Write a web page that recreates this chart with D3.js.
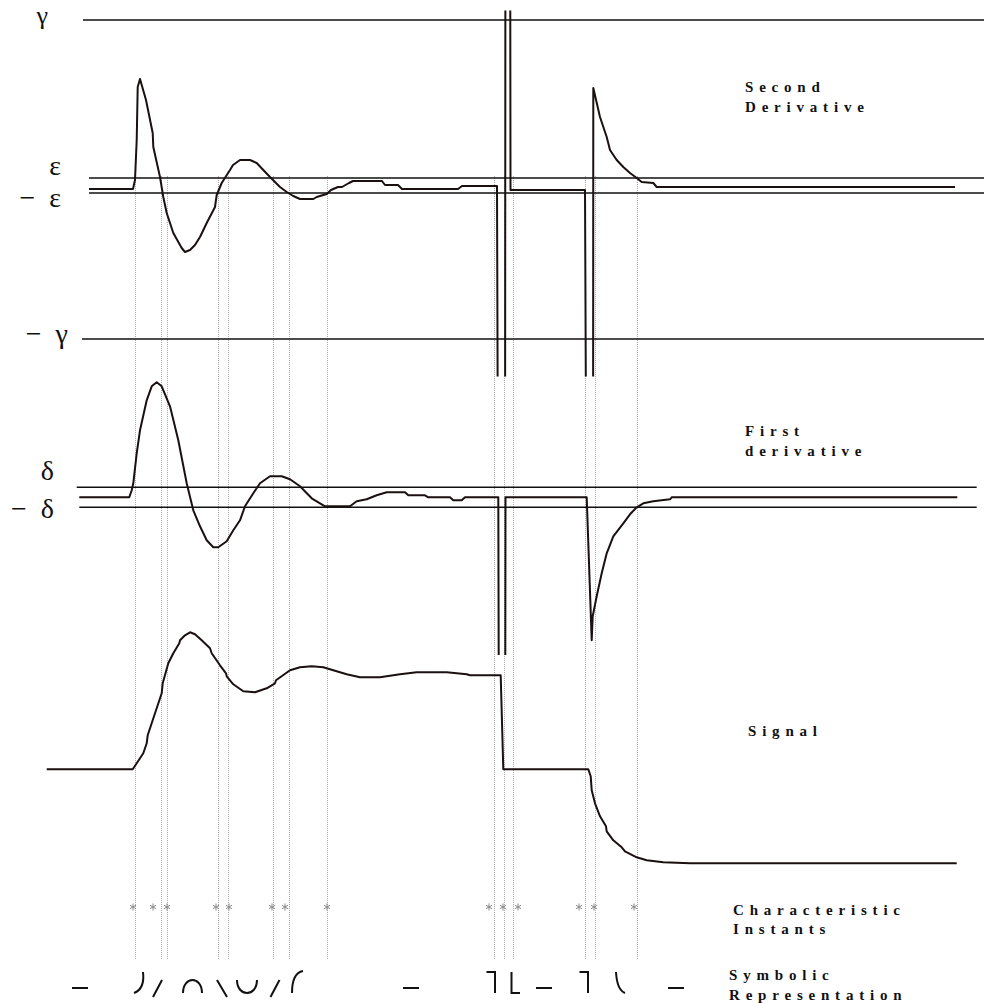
<!DOCTYPE html>
<html>
<head>
<meta charset="utf-8">
<script src="https://cdn.jsdelivr.net/npm/d3@7"></script>
<style>
  body { margin: 0; background: #fff; }
  .curve { fill: none; stroke: #1a1010; stroke-width: 2; stroke-linejoin: round; }
  .thr { stroke: #111; stroke-width: 1.6; }
  .instant { stroke: #a8a8a8; stroke-width: 1; stroke-dasharray: 1,1; }
  .greek { font-family: "Liberation Serif", "DejaVu Serif", serif; font-size: 28px; fill: #111; }
  .name { font-family: "Liberation Serif", serif; font-weight: bold; font-size: 15px; letter-spacing: 5.8px; fill: #111; }
  .star { fill: none; stroke: #8a8a8a; stroke-width: 1; }
  .sym { fill: none; stroke: #111; stroke-width: 2; }
</style>
</head>
<body>
<script>
// time axis (samples)
var instants = [135, 161, 167, 218, 228, 273, 289, 327, 494, 504, 513, 585, 595, 637];
var starTimes = [133, 153, 167, 216, 229, 272, 285, 327, 489, 503, 518, 579, 594, 634];

// second derivative (0 = rest level), thresholds gamma / epsilon
var d2Time = [89, 133, 135, 136.7, 137.7, 140, 146, 152.7, 153.3, 160, 163.3, 166.7, 173.3, 181.7, 185, 190, 195, 200, 206.7, 215, 216.7, 221.7, 230, 233, 240, 250, 256.7, 263.3, 270, 280, 286.7, 293.3, 300, 313.3, 316.7, 326.7, 331, 338, 342, 349, 353, 382, 385, 398, 402, 458, 462, 497, 498.3, 505, 505.5, 510, 510.5, 585, 586.7, 593, 593.3, 600, 606.7, 610, 616.7, 623.3, 630, 636.7, 641.7, 653.3, 656.7, 955];
var d2Value = [-3, -3, 6, 46, 99, 107, 86, 53, 39, 9, -11, -27, -47, -62, -66, -64, -59, -51, -37, -21, -9, 3, 16, 21, 26, 26, 23, 16, 9, -1, -6, -10, -13, -13, -11, -8, -4, -1, -1, 3, 5, 5, 1, 1, -3, -3, 0, 0, -400, -400, 400, 400, -4, -4, -400, -400, 98, 69, 49, 36, 26, 19, 13, 8, 4, 3, -1, -1];
var gamma = 166, negGamma = -153, eps = 8, negEps = -7;

// first derivative, thresholds delta
var d1Time = [79.3, 129.3, 131.7, 133.3, 136.7, 140, 146.7, 151.7, 156.7, 161.7, 170, 178.3, 186.7, 193.3, 200, 206.7, 213.3, 218.3, 226.7, 233.3, 240, 245, 253.3, 260, 270, 281.7, 290, 300, 311.7, 325, 350, 356.7, 366.7, 376.7, 386.7, 405, 408.3, 425, 428.3, 450, 453.3, 461.7, 465, 498.3, 499.3, 505, 505.5, 586.7, 591.7, 592.7, 596.7, 601.7, 606.7, 613.3, 623.3, 630, 636.7, 643.3, 653.3, 670, 671.7, 957.3];
var d1Value = [0, 0, 7, 14, 44, 67, 97, 111, 115, 111, 91, 57, 14, -13, -29, -43, -50, -50, -44, -33, -23, -9, 4, 14, 21, 21, 18, 11, -1, -9, -9, -4, -2, 2, 5, 5, 2, 2, 0, 0, -3, -3, 0, 0, -400, -400, 0, 0, -143, -119, -99, -76, -56, -39, -26, -17, -10, -6, -4, -2, 0, 0];
var delta = 10, negDelta = -10;

// signal
var sTime = [46.7, 132.7, 136.7, 143.3, 146.7, 147.7, 155, 161.7, 162.7, 168.3, 173.3, 179.3, 180, 185, 190, 195, 201.7, 210, 211.7, 220, 226, 226.7, 233.3, 243.3, 255, 266.7, 275, 276, 290, 300, 311.7, 323.3, 333.3, 346.7, 360, 380, 400, 416.7, 446.7, 466.7, 470, 500.7, 503.3, 588.3, 590.7, 591.7, 595, 600, 606, 606.7, 613.3, 621.7, 625, 636.7, 646.7, 663.3, 690, 956.7];
var sValue = [0, 0, 6, 16, 26, 34, 56, 76, 86, 106, 116, 126, 129, 134, 137, 135, 129, 121, 116, 104, 96, 93, 85, 78, 77, 81, 86, 89, 99, 102, 103, 102, 99, 95, 92, 92, 95, 97, 97, 95, 94, 94, 0, 0, -7, -21, -34, -47, -57, -62, -71, -78, -82, -88, -91, -93, -94, -94];

// symbolic representation
var symTime = [80, 139, 157.5, 192.5, 222, 247, 275, 298, 411, 491, 516, 544, 584, 620, 676];
var symKind = ["flat", "convex", "rise", "cap", "fall", "cup", "rise", "concave", "flat", "stepDown", "stepUp", "flat", "stepDown", "decay", "flat"];

var panelNames = [["Second", "Derivative"], ["First", "derivative"], ["Signal"], ["Characteristic", "Instants"], ["Symbolic", "Representation"]];

var width = 984, height = 1003;

var x = d3.scaleLinear().domain([0, 984]).range([0, 984]);
var y2 = d3.scaleLinear().domain([-160, 170]).range([346, 16]);
var y1 = d3.scaleLinear().domain([-170, 130]).range([667.3, 367.3]);
var ys = d3.scaleLinear().domain([-100, 140]).range([869.3, 629.3]);

var svg = d3.select("body").append("svg")
    .attr("width", width)
    .attr("height", height);

var defs = svg.append("defs");
defs.append("clipPath").attr("id", "clip2")
    .append("rect").attr("x", 0).attr("y", 10.5).attr("width", width).attr("height", 366);
defs.append("clipPath").attr("id", "clip1")
    .append("rect").attr("x", 0).attr("y", 360).attr("width", width).attr("height", 295);

// characteristic instants
svg.selectAll(".instant")
    .data(instants)
    .enter().append("line")
    .attr("class", "instant")
    .attr("x1", function(d) { return x(d) + 0.5; })
    .attr("x2", function(d) { return x(d) + 0.5; })
    .attr("y1", 176)
    .attr("y2", 959);

svg.selectAll(".star")
    .data(starTimes)
    .enter().append("path")
    .attr("class", "star")
    .attr("transform", function(d) { return "translate(" + x(d) + ",907)"; })
    .attr("d", d3.symbol(d3.symbolAsterisk, 35));

// thresholds
function hline(scale, v, x0, x1) {
    svg.append("line")
        .attr("class", "thr")
        .attr("x1", x(x0)).attr("x2", x(x1))
        .attr("y1", scale(v)).attr("y2", scale(v));
}
hline(y2, gamma, 83, 984);
hline(y2, eps, 89, 984);
hline(y2, negEps, 89, 984);
hline(y2, negGamma, 82, 984);
hline(y1, delta, 76.7, 976.7);
hline(y1, negDelta, 79.3, 976.7);

function curve(t, v, scale, clip) {
    var pts = t.map(function(d, i) { return [d, v[i]]; });
    var line = d3.line()
        .x(function(d) { return x(d[0]); })
        .y(function(d) { return scale(d[1]); });
    var p = svg.append("path")
        .datum(pts)
        .attr("class", "curve")
        .attr("d", line);
    if (clip) p.attr("clip-path", "url(#" + clip + ")");
}
curve(d2Time, d2Value, y2, "clip2");
curve(d1Time, d1Value, y1, "clip1");
curve(sTime, sValue, ys, null);

// threshold labels
function greek(txt, xEnd, yBase, size) {
    svg.append("text")
        .attr("class", "greek")
        .attr("x", xEnd)
        .attr("y", yBase)
        .attr("text-anchor", "end")
        .style("font-size", size ? size + "px" : null)
        .text(txt);
}
greek("\u03b3", 48, y2(gamma) + 4, 26);
greek("\u03b5", 61, y2(eps) - 3);
greek("\u2212\u2002\u03b5", 61, y2(negEps) + 14);
greek("\u2212\u2002\u03b3", 68, y2(negGamma) + 4);
greek("\u03b4", 54, y1(delta) - 7);
greek("\u2212\u2002\u03b4", 54, y1(negDelta) + 11);

// panel names
var namePos = [[745, 92, 20], [745, 436, 20], [748, 736, 20], [733, 915, 19], [729, 980, 20]];
panelNames.forEach(function(lines, i) {
    var t = svg.append("text")
        .attr("class", "name")
        .attr("x", namePos[i][0])
        .attr("y", namePos[i][1]);
    lines.forEach(function(s, j) {
        t.append("tspan")
            .attr("x", namePos[i][0])
            .attr("dy", j == 0 ? 0 : namePos[i][2])
            .text(s);
    });
});

// symbols
var symPath = {
    flat: "M-8,5H8",
    convex: "M4,-11Q6,6 -5,10",
    rise: "M-4.5,14L4.5,-3",
    cap: "M-9.5,10C-9.5,-7.3 9.5,-7.3 9.5,10",
    fall: "M-5,-3L5,14",
    cup: "M-10,-3C-10,14.3 10,14.3 10,-3",
    concave: "M5,-12Q-6,-10 -6,10",
    stepDown: "M-4.5,-11H4V10",
    stepUp: "M-4.5,-11V10H4",
    decay: "M-4,-11Q-3,7 5,10"
};
svg.selectAll(".sym")
    .data(symTime)
    .enter().append("path")
    .attr("class", "sym")
    .attr("transform", function(d) { return "translate(" + x(d) + ",983)"; })
    .attr("d", function(d, i) { return symPath[symKind[i]]; });
</script>
</body>
</html>
